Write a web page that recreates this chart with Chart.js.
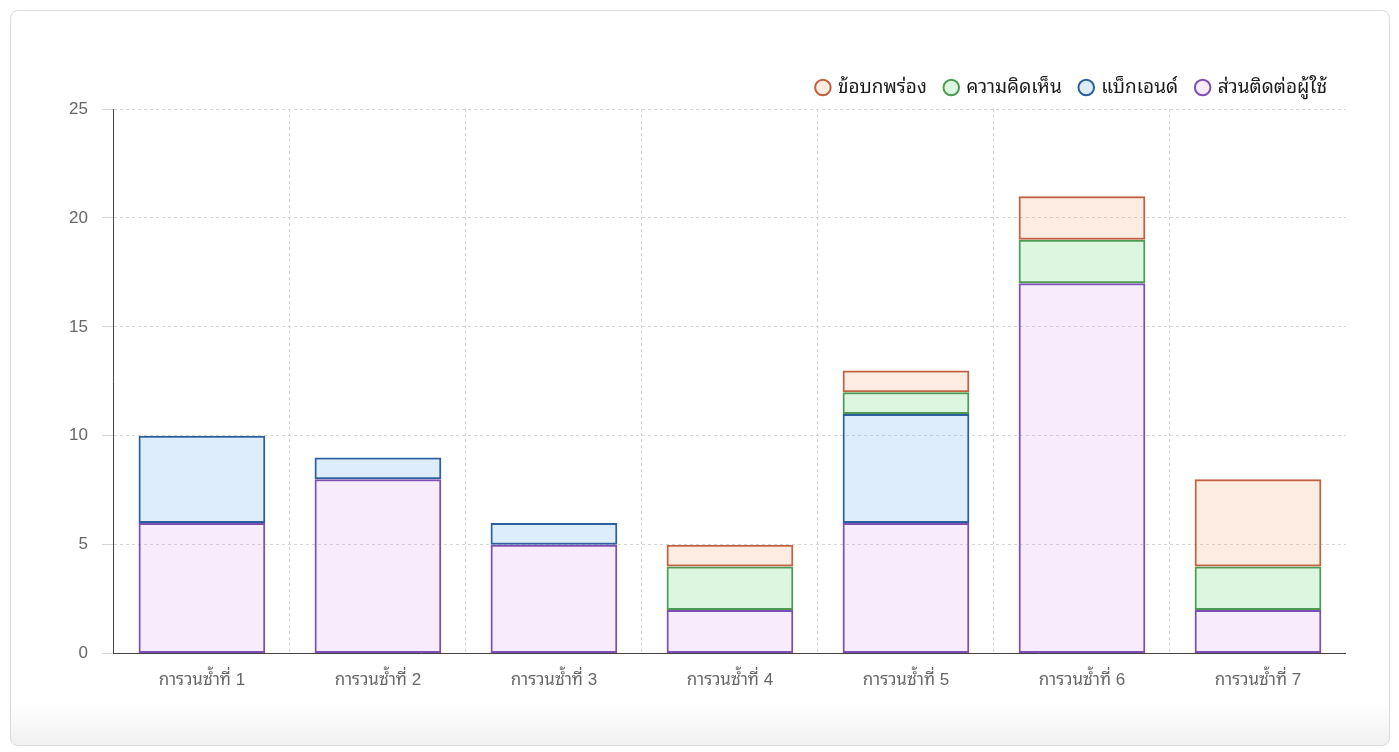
<!DOCTYPE html>
<html lang="th">
<head>
  <meta charset="UTF-8" />
  <title>Iteration Work</title>
  <script src="https://cdn.jsdelivr.net/npm/chart.js"></script>
  <style>
    body {
      margin: 0;
      background: #fff;
      font-family: 'Liberation Sans', 'Noto Sans Thai Looped', 'Loma', 'Garuda', 'Noto Sans Thai', sans-serif;
    }

    .card {
      position: absolute;
      left: 10px;
      top: 10px;
      width: 1378px;
      height: 734px;
      border: 1px solid #dcdcdc;
      border-radius: 8px;
      background: linear-gradient(to bottom, #fff 0, #fff 690px, #f1f1f1 734px);
    }

    .wrap {
      position: absolute;
      left: 44px;
      top: 48px;
      width: 1291px;
      height: 649px;
    }
  </style>
</head>
<body>
  <div class="card">
    <div class="wrap"><canvas id="chart"></canvas></div>
  </div>

  <script>
    const iterations = ['การวนซ้ำที่ 1', 'การวนซ้ำที่ 2', 'การวนซ้ำที่ 3', 'การวนซ้ำที่ 4', 'การวนซ้ำที่ 5', 'การวนซ้ำที่ 6', 'การวนซ้ำที่ 7'];
    const uiWork = [6, 8, 5, 2, 6, 17, 2];
    const backendWork = [4, 1, 1, 0, 5, 0, 0];
    const feedbackWork = [0, 0, 0, 2, 1, 2, 2];
    const defectWork = [0, 0, 0, 1, 1, 2, 4];

    const fontStack = "'Liberation Sans', 'Noto Sans Thai Looped', 'Loma', 'Garuda', 'Noto Sans Thai', sans-serif";

    function bars(label, data, border, fill) {
      return { label, data, borderColor: border, backgroundColor: fill, borderWidth: 2, borderSkipped: false };
    }

    // a little extra room between the legend and the plot
    const legendGap = {
      id: 'legendGap',
      beforeInit(chart) {
        const fit = chart.legend.fit;
        chart.legend.fit = function () {
          fit.call(this);
          this.height += 2;
        };
      }
    };

    new Chart(document.getElementById('chart'), {
      type: 'bar',
      data: {
        labels: iterations,
        datasets: [
          bars('ส่วนติดต่อผู้ใช้', uiWork, '#7b4fb3', 'rgba(205, 150, 240, 0.18)'),
          bars('แบ็กเอนด์', backendWork, '#2c5f9e', 'rgba(120, 185, 245, 0.25)'),
          bars('ความคิดเห็น', feedbackWork, '#4e9a52', 'rgba(120, 220, 130, 0.25)'),
          bars('ข้อบกพร่อง', defectWork, '#c2613f', 'rgba(245, 170, 120, 0.22)')
        ]
      },
      options: {
        responsive: true,
        maintainAspectRatio: false,
        animation: false,
        plugins: {
          tooltip: { enabled: false },
          legend: {
            position: 'top',
            align: 'end',
            reverse: true,
            labels: {
              usePointStyle: true,
              pointStyle: 'circle',
              boxWidth: 11,
              boxHeight: 11,
              padding: 19,
              color: '#1a1a1a',
              font: { family: fontStack, size: 19 }
            }
          }
        },
        scales: {
          x: {
            stacked: true,
            grid: { color: '#d6d6d6', drawTicks: false },
            border: { display: true, color: '#444', width: 1, dash: [3, 3] },
            ticks: { color: '#666', font: { family: fontStack, size: 17 }, padding: 17 }
          },
          y: {
            stacked: true,
            min: 0,
            max: 25,
            grid: { color: '#d6d6d6', tickLength: 12 },
            border: { display: true, color: '#444', width: 1, dash: [3, 3] },
            ticks: { stepSize: 5, color: '#666', font: { family: fontStack, size: 17 }, padding: 14 }
          }
        }
      },
      plugins: [legendGap]
    });
  </script>
</body>
</html>
